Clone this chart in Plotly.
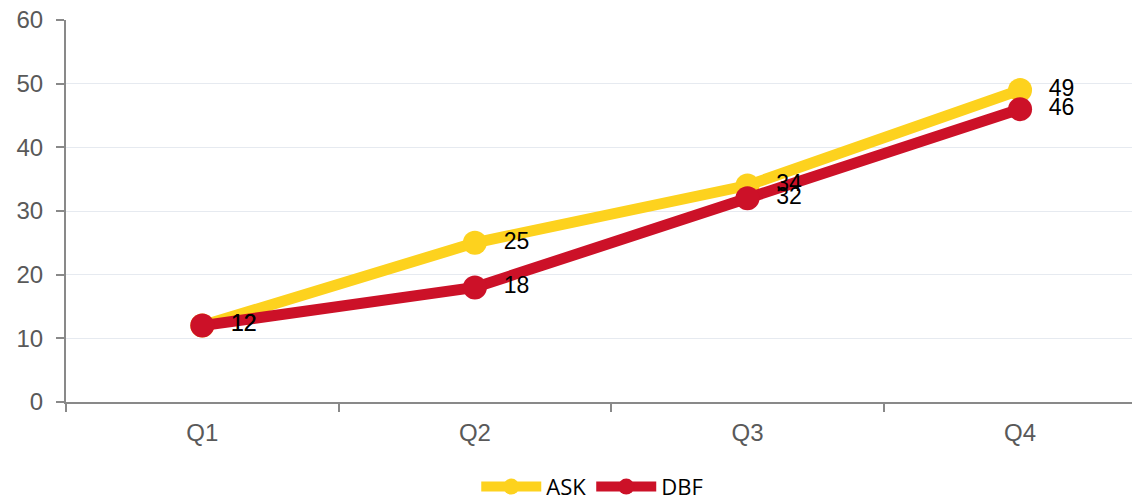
import plotly.graph_objects as go

categories = ["Q1", "Q2", "Q3", "Q4"]
ask_values = [12, 25, 34, 49]
dbf_values = [12, 18, 32, 46]
y_ticks = [0, 10, 20, 30, 40, 50, 60]

ASK_COLOR = "#FDD21E"
DBF_COLOR = "#CC1128"
label_font = dict(family="Liberation Sans, Arial", size=23, color="#000000")

fig = go.Figure()
for name, vals, col in [("ASK", ask_values, ASK_COLOR), ("DBF", dbf_values, DBF_COLOR)]:
    fig.add_trace(go.Scatter(
        x=categories, y=vals, name=name, mode="lines+markers",
        line=dict(color=col, width=11),
        marker=dict(color=col, size=24),
    ))
for vals in [ask_values, dbf_values]:
    fig.add_trace(go.Scatter(
        x=categories, y=vals, mode="markers+text", showlegend=False, hoverinfo="skip",
        marker=dict(size=24, color="rgba(0,0,0,0)"),
        text=["  " + str(v) for v in vals], textposition="middle right",
        textfont=label_font,
    ))

fig.update_layout(
    width=1132, height=489,
    margin=dict(l=58, r=0, t=12, b=95, autoexpand=False),
    paper_bgcolor="white", plot_bgcolor="white",
    font=dict(family="Liberation Sans, Arial", size=24, color="#595959"),
    legend=dict(orientation="h", x=0.49, xanchor="center", y=-0.222, yanchor="middle",
                font=dict(family="Open Sans, Liberation Sans", size=22, color="#000000"),
                itemwidth=60, tracegroupgap=0),
    showlegend=True,
)
fig.update_xaxes(
    type="category", range=[-0.5, 3.44], automargin=False,
    tickson="boundaries", ticks="outside", ticklen=8, tickwidth=2, tickcolor="#898989",
    showline=True, linecolor="#898989", linewidth=2,
    showgrid=False, zeroline=False, ticklabeloverflow="allow", ticklabelstandoff=8,
    tickfont=dict(size=24, color="#595959"),
)
fig.update_yaxes(
    range=[0, 60], tickvals=y_ticks, automargin=False,
    ticks="outside", ticklen=8, tickwidth=2, tickcolor="#898989",
    showline=True, linecolor="#898989", linewidth=2,
    showgrid=True, gridcolor="#E6EAF0", gridwidth=1,
    zeroline=False, ticklabeloverflow="allow", ticklabelstandoff=8,
    tickfont=dict(size=24, color="#595959"),
)

fig.write_html("out.html")
